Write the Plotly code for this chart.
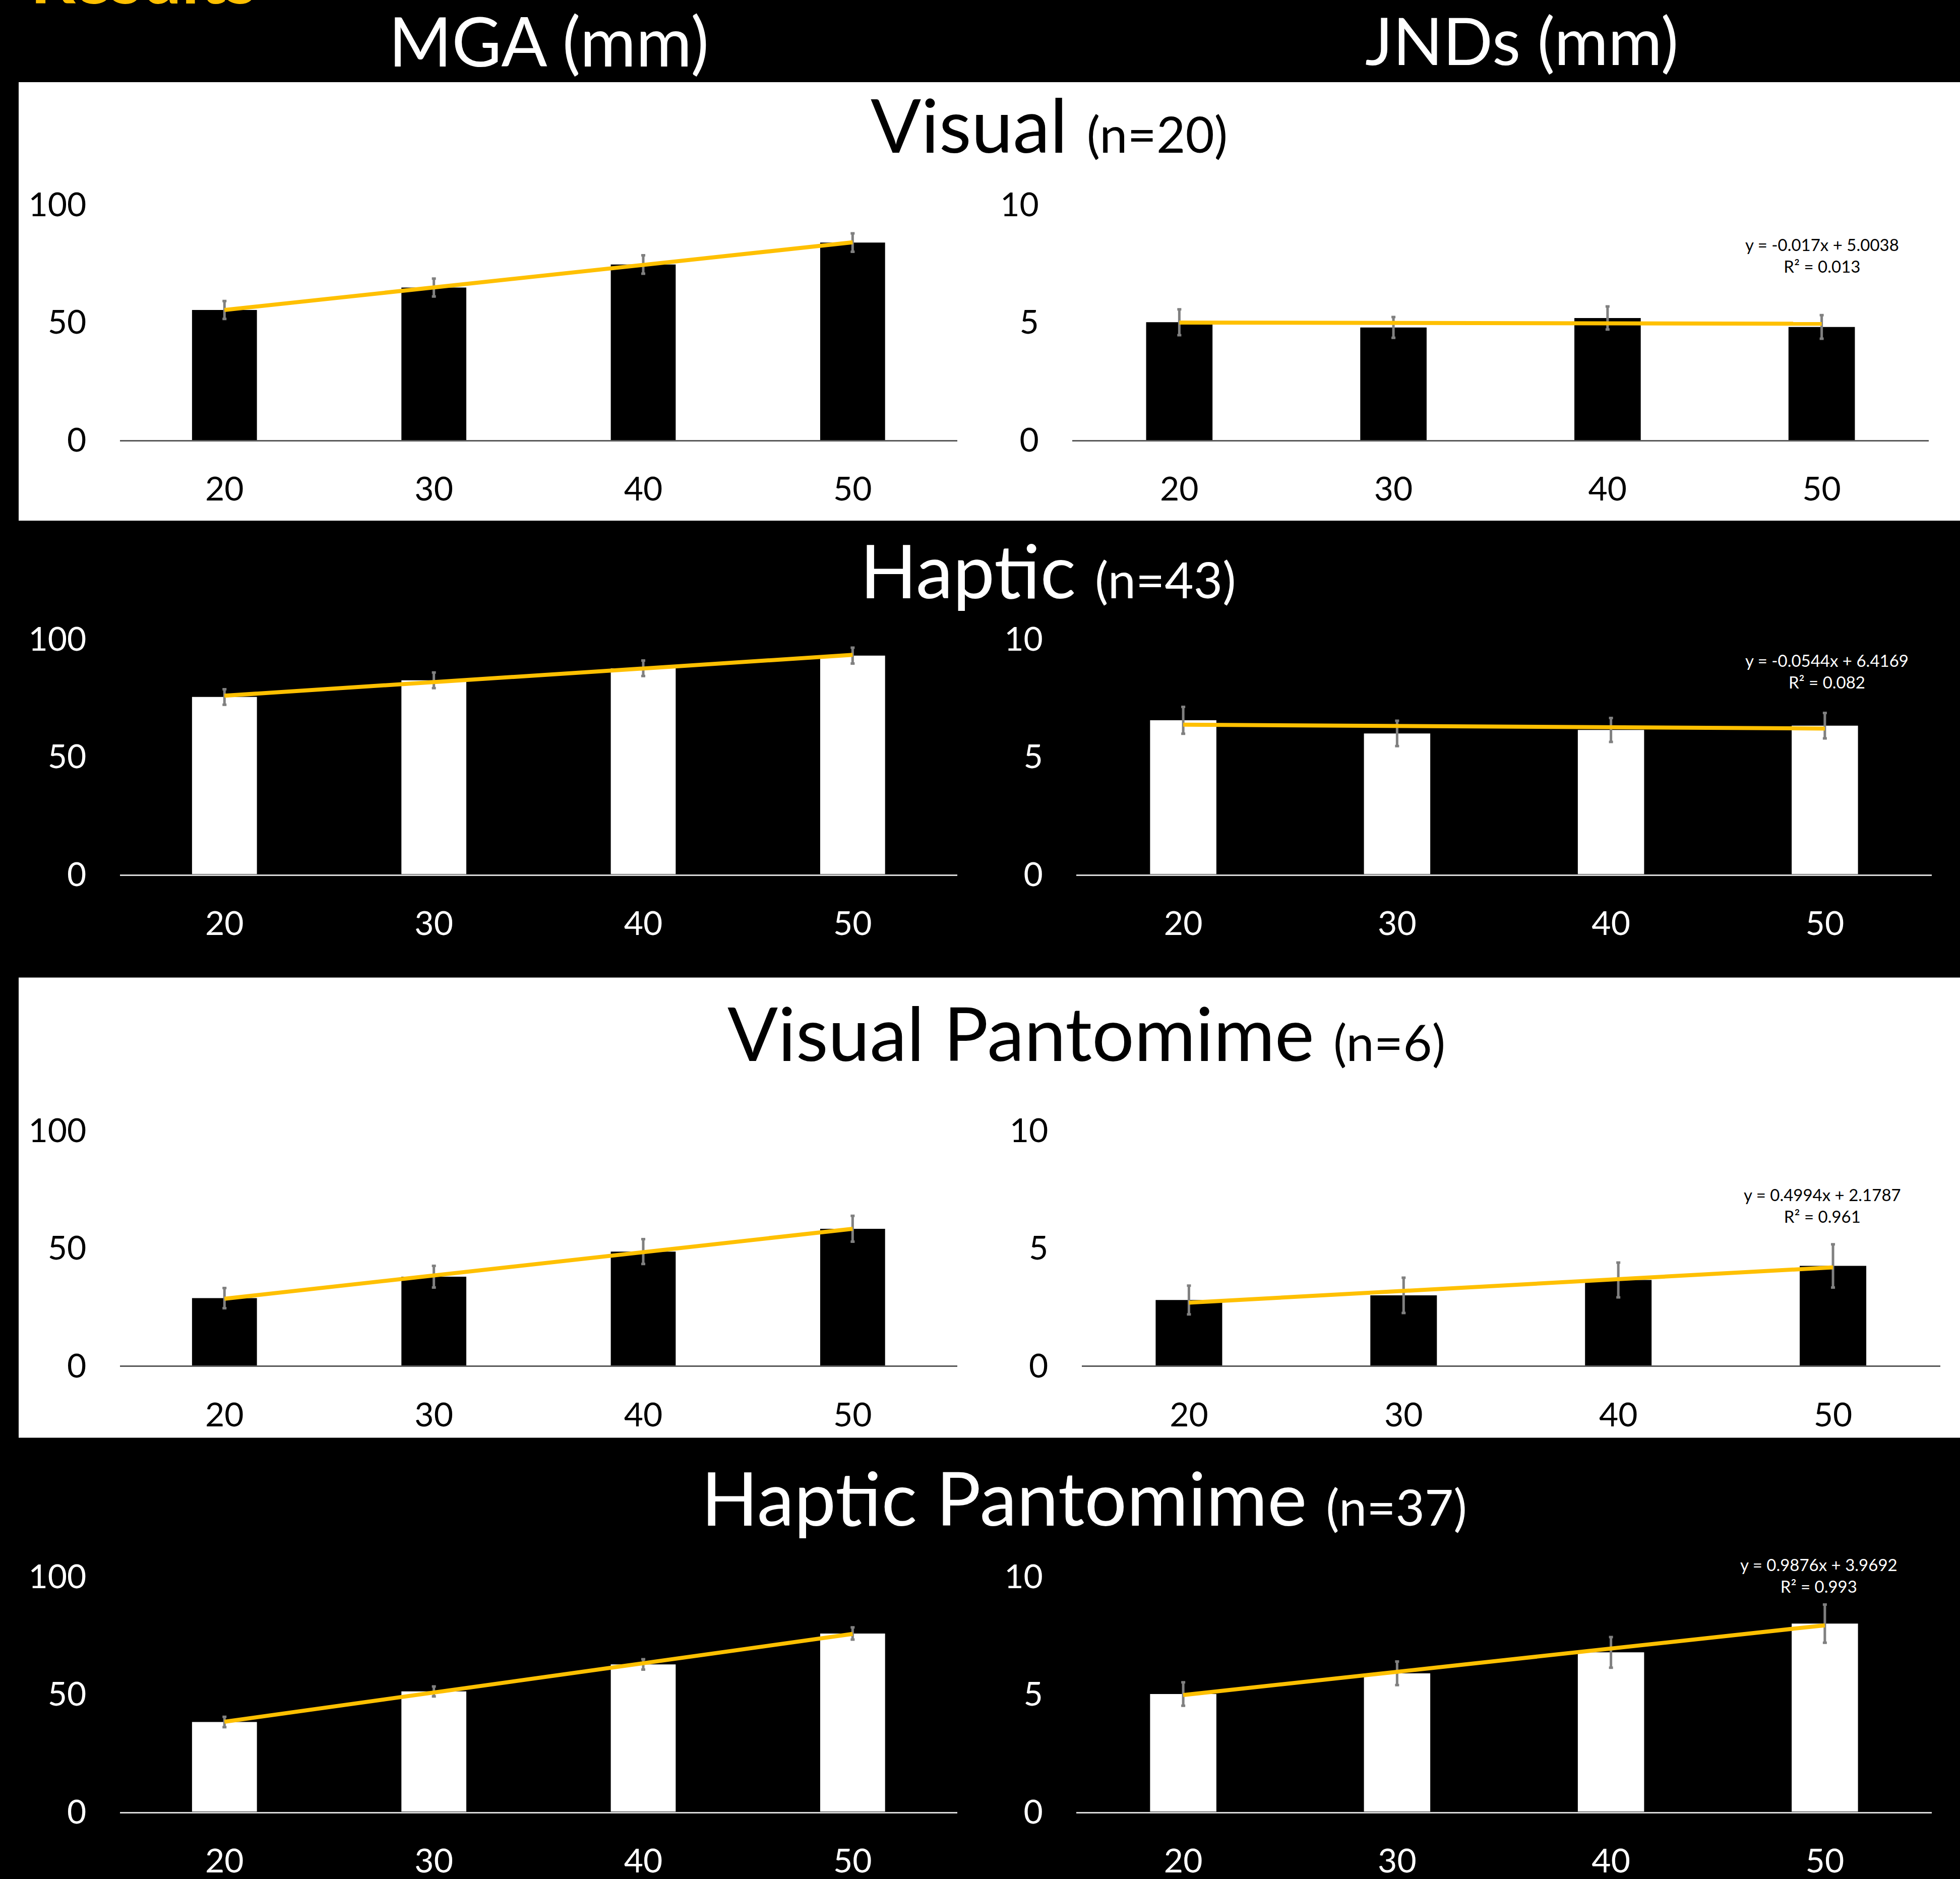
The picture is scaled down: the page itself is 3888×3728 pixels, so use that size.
import numpy as np
import plotly.graph_objects as go

# ---------------- data ----------------
object_sizes = ["20", "30", "40", "50"]
conditions = ["Visual", "Haptic", "Visual Pantomime", "Haptic Pantomime"]
n_participants = [20, 43, 6, 37]

mga_visual = [55.2, 64.7, 74.5, 83.8]
mga_haptic = [75.4, 82.5, 87.6, 93.0]
mga_visual_pant = [28.7, 37.8, 48.5, 58.2]
mga_haptic_pant = [38.1, 51.1, 62.6, 75.7]

mga_err_visual = [3.8, 3.8, 3.9, 3.9]
mga_err_haptic = [3.3, 3.3, 3.3, 3.4]
mga_err_visual_pant = [4.3, 4.6, 5.3, 5.5]
mga_err_haptic_pant = [2.2, 2.1, 2.2, 2.6]

jnd_visual = [5.00, 4.78, 5.18, 4.80]
jnd_haptic = [6.55, 5.99, 6.14, 6.32]
jnd_visual_pant = [2.79, 2.99, 3.64, 4.24]
jnd_haptic_pant = [5.00, 5.88, 6.77, 7.99]

jnd_err_visual = [0.55, 0.44, 0.49, 0.50]
jnd_err_haptic = [0.57, 0.54, 0.51, 0.54]
jnd_err_visual_pant = [0.61, 0.75, 0.74, 0.92]
jnd_err_haptic_pant = [0.50, 0.50, 0.65, 0.81]

jnd_slopes = [-0.017, -0.0544, 0.4994, 0.9876]
jnd_intercepts = [5.0038, 6.4169, 2.1787, 3.9692]
jnd_r2 = ["0.013", "0.082", "0.961", "0.993"]

mga_ticks = [0, 50, 100]
jnd_ticks = [0, 5, 10]

column_titles = ["MGA (mm)", "JNDs (mm)"]
header_text = "Results"

mga_rows = [mga_visual, mga_haptic, mga_visual_pant, mga_haptic_pant]
mga_errs = [mga_err_visual, mga_err_haptic, mga_err_visual_pant, mga_err_haptic_pant]
jnd_rows = [jnd_visual, jnd_haptic, jnd_visual_pant, jnd_haptic_pant]
jnd_errs = [jnd_err_visual, jnd_err_haptic, jnd_err_visual_pant, jnd_err_haptic_pant]

# ---------------- layout geometry (pixels) ----------------
W, H = 3888, 3728
FONT = "Lato"
ORANGE = "#FFC000"
ERR_GREY = "#808080"

row_px = [(405.5, 873.2), (1268.1, 1734.6), (2242.9, 2709.4), (3127.5, 3594.5)]
left_px = (237.6, 1899.0)
right_px = [(2127.0, 3826.0), (2135.0, 3832.0), (2145.5, 3849.0), (2135.0, 3832.0)]
white_rows = [True, False, True, False]
white_bands = [(163.0, 1033.0), None, (1939.5, 2852.5), None]

title_pos = [(2081, 305), (2079, 1189), (2155, 2107), (2150, 3029)]
eq_pos = [(3614, 507), (3624, 1331), (3615, 2391), (3608, 3125)]


def fx(p):
    return p / W


def fy(p):
    return 1 - p / H


fig = go.Figure()
layout = dict(
    width=W, height=H, autosize=False,
    margin=dict(l=0, r=0, t=0, b=0, pad=0),
    paper_bgcolor="black", plot_bgcolor="rgba(0,0,0,0)",
    showlegend=False, bargap=0.69,
    font=dict(family=FONT),
)
shapes = []
annotations = []

cat_idx = np.arange(1, len(object_sizes) + 1)

for r in range(4):
    fg = "black" if white_rows[r] else "white"
    axis_line = "#595959" if white_rows[r] else "#d9d9d9"
    if white_bands[r] is not None:
        y0, y1 = white_bands[r]
        shapes.append(dict(type="rect", xref="paper", yref="paper",
                           x0=fx(37), x1=1.0, y0=fy(y1), y1=fy(y0),
                           fillcolor="white", line=dict(width=0), layer="below"))
    top, bot = row_px[r]
    for c in range(2):
        idx = r * 2 + c + 1
        xname = "x" if idx == 1 else f"x{idx}"
        yname = "y" if idx == 1 else f"y{idx}"
        xkey = "xaxis" if idx == 1 else f"xaxis{idx}"
        ykey = "yaxis" if idx == 1 else f"yaxis{idx}"
        if c == 0:
            vals, errs, ticks = mga_rows[r], mga_errs[r], mga_ticks
            coef = np.polyfit(cat_idx, vals, 1)
            slope, icpt = coef[0], coef[1]
            xd = left_px
        else:
            vals, errs, ticks = jnd_rows[r], jnd_errs[r], jnd_ticks
            slope, icpt = jnd_slopes[r], jnd_intercepts[r]
            xd = right_px[r]

        fig.add_trace(go.Bar(
            x=object_sizes, y=vals, xaxis=xname, yaxis=yname,
            marker=dict(color=fg, line=dict(width=0)),
            error_y=dict(type="data", array=errs, visible=True,
                         color=ERR_GREY, thickness=5, width=4),
            hoverinfo="skip",
        ))
        fig.add_trace(go.Scatter(
            x=[object_sizes[0], object_sizes[-1]],
            y=[slope * cat_idx[0] + icpt, slope * cat_idx[-1] + icpt],
            xaxis=xname, yaxis=yname, mode="lines",
            line=dict(color=ORANGE, width=8), hoverinfo="skip",
        ))
        layout[xkey] = dict(
            domain=[fx(xd[0]), fx(xd[1])], anchor=yname, type="category",
            automargin=False,
            showline=True, linecolor=axis_line, linewidth=3,
            ticks="outside", ticklen=38, tickcolor="rgba(0,0,0,0)",
            tickfont=dict(size=66, color=fg, family=FONT),
            showgrid=False, zeroline=False, fixedrange=True,
        )
        layout[ykey] = dict(
            domain=[fy(bot), fy(top)], anchor=xname,
            automargin=False,
            range=[0, ticks[-1]], tickvals=ticks,
            ticks="outside", ticklen=52, tickcolor="rgba(0,0,0,0)",
            tickfont=dict(size=66, color=fg, family=FONT),
            showline=False, showgrid=False, zeroline=False, fixedrange=True,
        )

    # row title
    tx, tb = title_pos[r]
    fs_big = 148
    annotations.append(dict(
        xref="paper", yref="paper", x=fx(tx), y=fy(tb + 0.213 * fs_big),
        xanchor="center", yanchor="bottom", showarrow=False,
        text=f"{conditions[r]} <span style='font-size:99px'>(n={n_participants[r]})</span>",
        font=dict(size=fs_big, color=fg, family=FONT),
    ))
    # trendline equation
    ex, ey = eq_pos[r]
    annotations.append(dict(
        xref="paper", yref="paper", x=fx(ex), y=fy(ey),
        xanchor="center", yanchor="middle", showarrow=False, align="center",
        text=f"y = {jnd_slopes[r]}x + {jnd_intercepts[r]}<br>R\u00b2 = {jnd_r2[r]}",
        font=dict(size=33, color=fg, family=FONT),
    ))

# column headings
for txt, cx, base, fs_col in zip(column_titles, [1088, 3018], [134, 131], [135, 130]):
    annotations.append(dict(
        xref="paper", yref="paper", x=fx(cx), y=fy(base + 0.213 * fs_col),
        xanchor="center", yanchor="bottom", showarrow=False, text=txt,
        font=dict(size=fs_col, color="white", family=FONT),
    ))

# cropped slide header
annotations.append(dict(
    xref="paper", yref="paper", x=fx(58), y=fy(9 + 0.213 * 140),
    xanchor="left", yanchor="bottom", showarrow=False, text=f"<b>{header_text}</b>",
    font=dict(size=140, color=ORANGE, family=FONT),
))

layout["shapes"] = shapes
layout["annotations"] = annotations
fig.update_layout(**layout)

fig.write_html("out.html", config={"displayModeBar": False},
               post_script="document.body.style.margin='0';")
